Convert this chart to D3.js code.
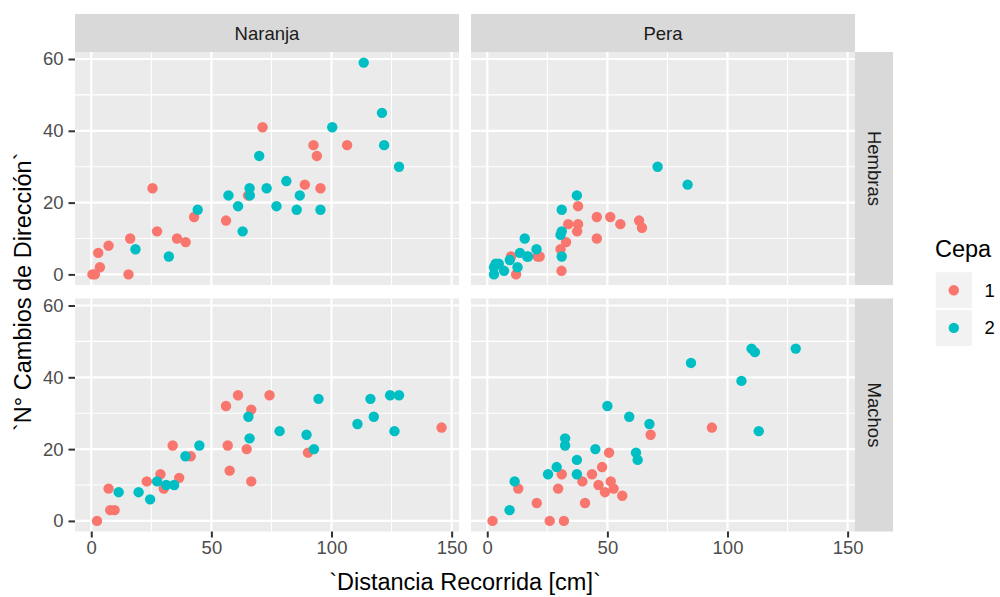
<!DOCTYPE html>
<html>
<head>
<meta charset="utf-8">
<script src="https://cdn.jsdelivr.net/npm/d3@7"></script>
<style>
  html, body { margin: 0; padding: 0; background: #ffffff; }
  svg { display: block; font-family: "Liberation Sans", Arial, sans-serif; }
</style>
</head>
<body>
<svg id="chart" width="1000" height="597"></svg>
<script>
// Facet levels and colour groups
const fruits = ["Naranja", "Pera"];
const sexes = ["Hembras", "Machos"];
const cepas = ["1", "2"];

// Axis breaks
const xTicks = [0, 50, 100, 150];
const yTicks = [0, 20, 40, 60];
const xMinor = [25, 75, 125];
const yMinor = [10, 30, 50];

// [distance (cm), number of direction changes] for each fruit / sex / strain
const naranjaHembras1 = [[0.5,0],[1.5,0],[3.6,2],[2.9,6],[7.2,8],[16.2,10],[15.5,0],[25.5,24],[27.4,12],[35.7,10],[39.3,9],[42.8,16],[56.1,15],[71.3,41],[92.5,36],[93.9,33],[88.9,25],[95.4,24],[106.5,36],[65.3,22]];
const naranjaHembras2 = [[18.4,7],[32.3,5],[44.3,18],[57.1,22],[61.1,19],[63,12],[65.9,24],[66,22],[69.9,33],[73,24],[77.1,19],[81.2,26],[86.8,22],[85.5,18],[95.4,18],[100.3,41],[113.4,59],[121,45],[121.9,36],[128.1,30]];
const peraHembras1 = [[37.8,19],[33.7,14],[37.8,14],[37.4,12],[45.6,16],[51.2,16],[55.4,14],[63.2,15],[64.4,13],[45.6,10],[32.8,9],[30.5,7],[30.9,1],[12,0],[9.9,5],[21,5],[21.8,5]];
const peraHembras2 = [[70.9,30],[83.4,25],[37.3,22],[31,18],[15.6,10],[31,12],[30.5,11],[31,5],[20.5,7],[13.6,6],[9.4,4],[16.6,5],[7,1],[12.6,2],[2.8,0],[2.8,2],[3.5,3],[4.8,3],[17,5]];
const naranjaMachos1 = [[2.4,0],[7.2,9],[7.9,3],[9.7,3],[23.1,11],[28.8,13],[30.2,9],[36.6,12],[33.9,21],[41.4,18],[56.1,32],[61.1,35],[66.6,31],[74.2,35],[56.8,21],[57.6,14],[64.7,20],[66.6,11],[90.2,19],[145.8,26]];
const naranjaMachos2 = [[11.4,8],[19.7,8],[24.5,6],[27.4,11],[31.2,10],[34.5,10],[39.2,18],[45,21],[65.4,29],[65.9,23],[78.4,25],[89.6,24],[92.7,20],[94.6,34],[110.8,27],[116.2,34],[117.6,29],[124.4,35],[128.1,35],[126.2,25]];
const peraMachos1 = [[2.2,0],[12.9,9],[20.6,5],[26,0],[31.9,0],[29.5,9],[31,13],[39.6,11],[40.7,5],[43.6,13],[46.3,10],[47.8,15],[49,8],[50.7,19],[51.4,11],[52.6,9],[56.2,7],[68,24],[93.5,26]];
const peraMachos2 = [[9.3,3],[11.4,11],[25.3,13],[28.9,15],[32.4,23],[32.4,21],[37.3,17],[37.3,13],[45,20],[50,32],[59.1,29],[61.9,19],[62.6,17],[67.5,27],[84.8,44],[105.8,39],[110,48],[111.4,47],[128.4,48],[113,25]];

const panelData = {
  "Naranja|Hembras": [naranjaHembras1, naranjaHembras2],
  "Pera|Hembras": [peraHembras1, peraHembras2],
  "Naranja|Machos": [naranjaMachos1, naranjaMachos2],
  "Pera|Machos": [peraMachos1, peraMachos2]
};

const colors = d3.scaleOrdinal().domain(cepas).range(["#F8766D", "#00BFC4"]);

// Shared (fixed) scales with 5% expansion, as in facet_grid
const allPts = Object.values(panelData).flat(2);
const xExt = d3.extent(allPts, d => d[0]);
const yExt = d3.extent(allPts, d => d[1]);
const xPad = (xExt[1] - xExt[0]) * 0.05;
const yPad = (yExt[1] - yExt[0]) * 0.05;
const xDom = [xExt[0] - xPad, xExt[1] + xPad];
const yDom = [yExt[0] - yPad, yExt[1] + yPad];

const colRanges = [[75, 459], [471, 855]];
const rowRanges = [[285, 52], [531.5, 298.5]];
const xScales = colRanges.map(r => d3.scaleLinear().domain(xDom).range(r));
const yScales = rowRanges.map(r => d3.scaleLinear().domain(yDom).range(r));

const svg = d3.select("#chart");
const tickFont = 18.5;
const titleFont = 23.5;

sexes.forEach((sex, ri) => {
  fruits.forEach((fruit, ci) => {
    const x = xScales[ci], y = yScales[ri];
    const g = svg.append("g");
    const [x0, x1] = x.range();
    const [yb, yt] = y.range();
    g.append("rect").attr("x", x0).attr("y", yt)
      .attr("width", x1 - x0).attr("height", yb - yt).attr("fill", "#EBEBEB");
    // minor grid
    g.selectAll(".vmin").data(xMinor).join("line")
      .attr("x1", d => x(d)).attr("x2", d => x(d)).attr("y1", yt).attr("y2", yb)
      .attr("stroke", "#fff").attr("stroke-width", 1.1);
    g.selectAll(".hmin").data(yMinor).join("line")
      .attr("class", "hmin")
      .attr("x1", x0).attr("x2", x1).attr("y1", d => y(d)).attr("y2", d => y(d))
      .attr("stroke", "#fff").attr("stroke-width", 1.1);
    // major grid
    g.selectAll(".vmaj").data(xTicks).join("line")
      .attr("class", "vmaj")
      .attr("x1", d => x(d)).attr("x2", d => x(d)).attr("y1", yt).attr("y2", yb)
      .attr("stroke", "#fff").attr("stroke-width", 2.2);
    g.selectAll(".hmaj").data(yTicks).join("line")
      .attr("class", "hmaj")
      .attr("x1", x0).attr("x2", x1).attr("y1", d => y(d)).attr("y2", d => y(d))
      .attr("stroke", "#fff").attr("stroke-width", 2.2);

    // points
    const series = panelData[fruit + "|" + sex];
    series.forEach((pts, si) => {
      g.selectAll(".pt" + si).data(pts).join("circle")
        .attr("class", "pt" + si)
        .attr("cx", d => x(d[0])).attr("cy", d => y(d[1]))
        .attr("r", 5.2).attr("fill", colors(cepas[si]));
    });

    // top strips
    if (ri === 0) {
      svg.append("rect").attr("x", x0).attr("y", 14)
        .attr("width", x1 - x0).attr("height", yt - 14).attr("fill", "#D9D9D9");
      svg.append("text").attr("x", (x0 + x1) / 2).attr("y", (14 + yt) / 2)
        .attr("text-anchor", "middle").attr("dominant-baseline", "central")
        .attr("font-size", tickFont).attr("fill", "#1A1A1A").text(fruit);
    }
    // right strips
    if (ci === 1) {
      svg.append("rect").attr("x", x1).attr("y", yt)
        .attr("width", 38).attr("height", yb - yt).attr("fill", "#D9D9D9");
      svg.append("text")
        .attr("transform", `translate(${x1 + 19},${(yt + yb) / 2}) rotate(90)`)
        .attr("text-anchor", "middle").attr("dominant-baseline", "central")
        .attr("font-size", tickFont).attr("fill", "#1A1A1A").text(sex);
    }
    // bottom axes
    if (ri === 1) {
      const ax = svg.append("g").attr("transform", `translate(0,${yb})`)
        .call(d3.axisBottom(x).tickValues(xTicks).tickSize(6).tickPadding(3));
      ax.select(".domain").remove();
      ax.selectAll("line").attr("stroke", "#333333").attr("stroke-width", 2);
      ax.selectAll("text").attr("font-size", tickFont).attr("fill", "#4D4D4D")
        .attr("font-family", "Liberation Sans, Arial, sans-serif");
    }
    // left axes
    if (ci === 0) {
      const ay = svg.append("g").attr("transform", `translate(${x0},0)`)
        .call(d3.axisLeft(y).tickValues(yTicks).tickSize(6.5).tickPadding(5));
      ay.select(".domain").remove();
      ay.selectAll("line").attr("stroke", "#333333").attr("stroke-width", 2);
      ay.selectAll("text").attr("font-size", tickFont).attr("fill", "#4D4D4D")
        .attr("font-family", "Liberation Sans, Arial, sans-serif");
    }
  });
});

// axis titles
svg.append("text").attr("x", (75 + 855) / 2).attr("y", 590)
  .attr("text-anchor", "middle").attr("font-size", titleFont).attr("fill", "#000")
  .text("`Distancia Recorrida [cm]`");
svg.append("text")
  .attr("transform", `translate(31,${(52 + 531.5) / 2}) rotate(-90)`)
  .attr("text-anchor", "middle").attr("font-size", titleFont).attr("fill", "#000")
  .text("`N° Cambios de Dirección`");

// legend
const lg = svg.append("g").attr("transform", "translate(935,0)");
lg.append("text").attr("x", 0).attr("y", 257).attr("font-size", titleFont)
  .attr("fill", "#000").text("Cepa");
const keySize = 37.6;
cepas.forEach((c, i) => {
  const ky = 271.5 + i * keySize;
  lg.append("rect").attr("x", 0).attr("y", ky).attr("width", keySize).attr("height", keySize)
    .attr("fill", "#F2F2F2").attr("stroke", "#fff").attr("stroke-width", 1.5);
  lg.append("circle").attr("cx", keySize / 2).attr("cy", ky + keySize / 2)
    .attr("r", 5.2).attr("fill", colors(c));
  lg.append("text").attr("x", keySize + 12).attr("y", ky + keySize / 2)
    .attr("dominant-baseline", "central").attr("font-size", tickFont)
    .attr("fill", "#000").text(c);
});
</script>
</body>
</html>
